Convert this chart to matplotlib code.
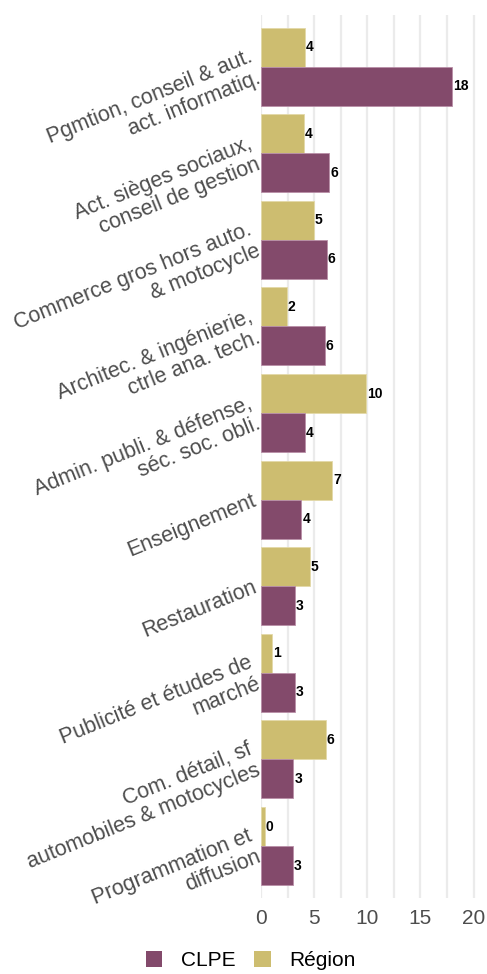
import numpy as np
import matplotlib

matplotlib.use("Agg")
import matplotlib.pyplot as plt
from matplotlib.patches import Patch

plt.rcParams["font.family"] = ["Liberation Sans", "DejaVu Sans"]

# ------------------------------------------------------------
# données (ordre de haut en bas)
# ------------------------------------------------------------
categories = [
    "Pgmtion, conseil & aut.\nact. informatiq.",
    "Act. sièges sociaux,\nconseil de gestion",
    "Commerce gros hors auto.\n& motocycle",
    "Architec. & ingénierie,\nctrle ana. tech.",
    "Admin. publi. & défense,\nséc. soc. obli.",
    "Enseignement",
    "Restauration",
    "Publicité et études de\nmarché",
    "Com. détail, sf\nautomobiles & motocycles",
    "Programmation et\ndiffusion",
]
clpe = [18.0, 6.4, 6.2, 6.0, 4.15, 3.8, 3.2, 3.15, 3.05, 3.0]
region = [4.15, 4.05, 4.95, 2.4, 9.85, 6.7, 4.6, 1.05, 6.1, 0.35]
series_names = ["CLPE", "Région"]
xticks = [0, 5, 10, 15, 20]

COL_CLPE = "#834A6B"
COL_REG = "#CDBD70"
TXT = "#4D4D4D"
GRID = "#EBEBEB"

fig = plt.figure(figsize=(4.87, 9.74), dpi=100)
ax = fig.add_axes([0.536, 0.078, 0.454, 0.907])

n = len(categories)
pos = np.arange(n)[::-1]
h = 0.45

ax.barh(pos + h / 2, region, height=h, color=COL_REG, edgecolor="#E3D9A8", linewidth=0.6, zorder=2)
ax.barh(pos - h / 2, clpe, height=h, color=COL_CLPE, edgecolor="#B98FA8", linewidth=0.6, zorder=2)

# étiquettes de valeurs
for p, v in zip(pos, region):
    ax.text(v + 0.1, p + h / 2, f"{round(v):d}", va="center", ha="left",
            fontsize=10, fontweight="bold", color="black", zorder=3)
for p, v in zip(pos, clpe):
    ax.text(v + 0.1, p - h / 2, f"{round(v):d}", va="center", ha="left",
            fontsize=10, fontweight="bold", color="black", zorder=3)

ax.set_xlim(0, 20.8)
ax.set_ylim(-0.6, n - 1 + 0.6)

# grille verticale (majeure + mineure)
for x in np.arange(0, 20.01, 2.5):
    ax.axvline(x, color=GRID, linewidth=1.6, zorder=0)

ax.set_xticks(xticks)
ax.set_xticklabels([str(t) for t in xticks], fontsize=15, color=TXT)
ax.set_yticks(pos)
ax.set_yticklabels(categories, fontsize=15.5, color=TXT, rotation=22,
                   ha="right", va="center", rotation_mode="anchor",
                   multialignment="right", linespacing=1.1)
ax.tick_params(axis="both", length=0, pad=4)
ax.tick_params(axis="x", pad=8)
for s in ax.spines.values():
    s.set_visible(False)

handles = [Patch(facecolor=COL_CLPE, edgecolor="none"),
           Patch(facecolor=COL_REG, edgecolor="none")]
fig.legend(handles, series_names, loc="center", bbox_to_anchor=(0.515, 0.014),
           ncol=2, frameon=False, fontsize=15, handlelength=0.8, handleheight=0.8,
           handletextpad=0.9, columnspacing=0.9)

fig.savefig("out.png", dpi=100)
